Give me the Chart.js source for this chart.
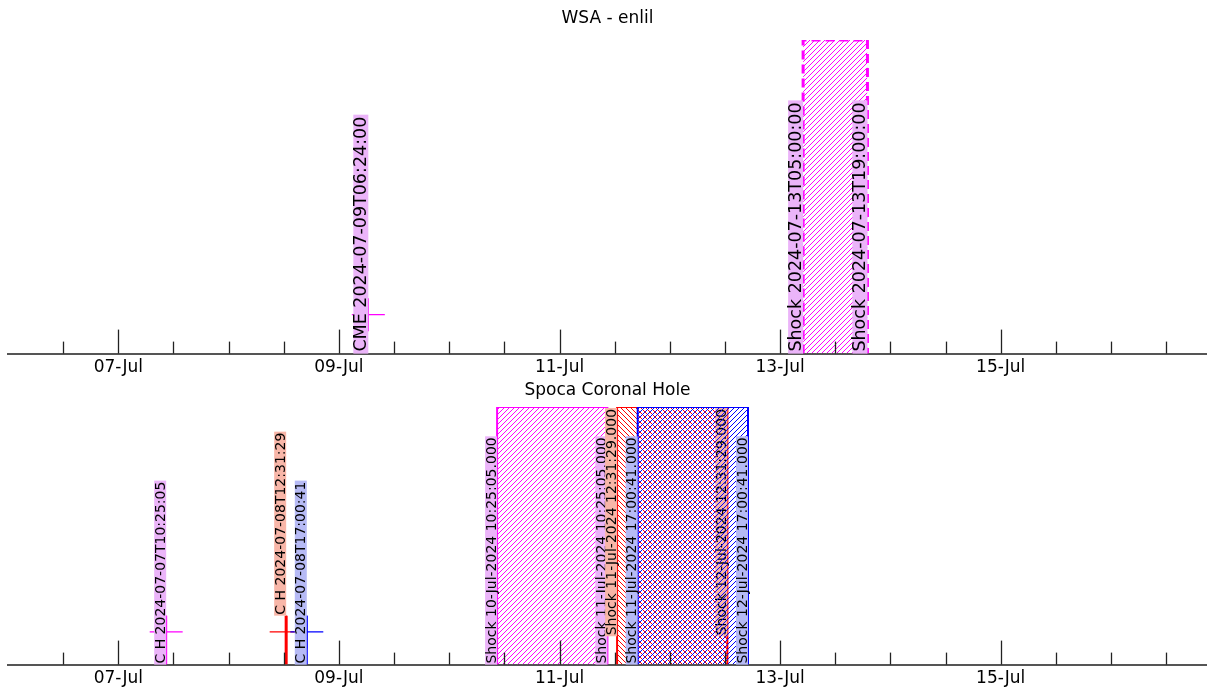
<!DOCTYPE html>
<html>
<head>
<meta charset="utf-8">
<title>WSA - enlil / Spoca Coronal Hole</title>
<script src="https://cdn.jsdelivr.net/npm/chart.js@4.4.1/dist/chart.umd.min.js"></script>
<style>
  html, body { margin: 0; padding: 0; background: #fff; }
  .panel { position: relative; width: 1207px; }
  #top-panel { height: 382px; }
  #bottom-panel { height: 311px; }
</style>
</head>
<body>
<div class="panel" id="top-panel"><canvas id="wsaChart"></canvas></div>
<div class="panel" id="bottom-panel"><canvas id="spocaChart"></canvas></div>
<script>
// Event times (UTC)
const wsaCmeTimes = ['2024-07-09T06:24:00'];
const wsaShockTimes = ['2024-07-13T05:00:00', '2024-07-13T19:00:00'];

const chMagentaTimes = ['2024-07-07T10:25:05'];
const chRedTimes = ['2024-07-08T12:31:29'];
const chBlueTimes = ['2024-07-08T17:00:41'];

const shockMagentaTimes = ['2024-07-10T10:25:05', '2024-07-11T10:25:05'];
const shockRedTimes = ['2024-07-11T12:31:29', '2024-07-12T12:31:29'];
const shockBlueTimes = ['2024-07-11T17:00:41', '2024-07-12T17:00:41'];

// Heights (fraction of panel height)
const wsaMarkerLevel = 0.124;
const chMarkerLevel = 0.127;
const chStemTop = 0.19;
const boxTop = 1;

// Axis: days of July 2024
const dayMin = 6;
const dayMax = 16.87;
const tickDays = [6.5, 7, 7.5, 8, 8.5, 9, 9.5, 10, 10.5, 11, 11.5, 12, 12.5, 13, 13.5, 14, 14.5, 15, 15.5, 16, 16.5];
const labelDays = [7, 9, 11, 13, 15];
const tickLabels = ['07-Jul', '09-Jul', '11-Jul', '13-Jul', '15-Jul'];

const MONTHS = ['Jan', 'Feb', 'Mar', 'Apr', 'May', 'Jun', 'Jul', 'Aug', 'Sep', 'Oct', 'Nov', 'Dec'];

Chart.defaults.font.family = '"DejaVu Sans", sans-serif';
Chart.defaults.color = '#000';

// ISO time -> fractional day of July
function toDay(iso) {
  const ms = Date.parse(iso + 'Z') - Date.UTC(2024, 6, 1);
  return 1 + ms / 86400000;
}

function pad2(n) {
  return String(n).padStart(2, '0');
}

// "10-Jul-2024 10:25:05.000"
function spocaStamp(iso) {
  const d = new Date(iso + 'Z');
  return pad2(d.getUTCDate()) + '-' + MONTHS[d.getUTCMonth()] + '-' + d.getUTCFullYear() + ' ' + iso.slice(11) + '.000';
}

// Hatch fill like matplotlib '/' or '\'
function hatch(color, size, dir) {
  const c = document.createElement('canvas');
  c.width = size;
  c.height = size;
  const g = c.getContext('2d');
  g.strokeStyle = color;
  g.lineWidth = 1;
  g.beginPath();
  if (dir === '/') {
    g.moveTo(0, size); g.lineTo(size, 0);
    g.moveTo(-1, 1); g.lineTo(1, -1);
    g.moveTo(size - 1, size + 1); g.lineTo(size + 1, size - 1);
  } else {
    g.moveTo(0, 0); g.lineTo(size, size);
    g.moveTo(-1, size - 1); g.lineTo(1, size + 1);
    g.moveTo(size - 1, -1); g.lineTo(size + 1, 1);
  }
  g.stroke();
  return g.createPattern(c, 'repeat');
}

const colors = {
  magenta: { line: '#ff00ff', label: '#ebb4f9' },
  red: { line: '#ff0000', label: '#f8b6a8' },
  blue: { line: '#0000ff', label: '#b6baf5' }
};

// Rectangle spanning two event times (open at the bottom, filled to y=0)
function boxData(times) {
  const a = toDay(times[0]);
  const b = toDay(times[1]);
  return [{ x: a, y: 0 }, { x: a, y: boxTop }, { x: b, y: boxTop }, { x: b, y: 0 }];
}

function boxDataset(name, times, color, pattern, dashed, order) {
  return {
    label: name,
    data: boxData(times),
    borderColor: color,
    borderWidth: dashed ? 3 : 2,
    borderDash: dashed ? [9, 5] : [],
    backgroundColor: pattern,
    fill: 'origin',
    tension: 0,
    pointRadius: 0,
    order: order
  };
}

function stemDataset(name, times, color, width, order) {
  const t = toDay(times[0]);
  return {
    label: name,
    data: [{ x: t, y: 0 }, { x: t, y: chStemTop }],
    borderColor: color,
    borderWidth: width,
    pointRadius: 0,
    fill: false,
    order: order
  };
}

function markerDataset(name, times, level, color, order) {
  return {
    label: name,
    data: times.map(t => ({ x: toDay(t), y: level })),
    showLine: false,
    pointStyle: 'cross',
    pointRadius: 16.5,
    pointBorderWidth: 1.2,
    pointBorderColor: color,
    borderColor: color,
    order: order
  };
}

// Rotated text labels, drawn right after a given dataset
const labelGroups = {
  wsaChart: [
    { after: 'wsa-shock-box', size: 17.5, thick: 15, pad: 2, bg: colors.magenta.label,
      items: wsaShockTimes.map(t => ({ day: toDay(t), base: 0, text: 'Shock ' + t })) },
    { after: 'wsa-cme-marker', size: 17.5, thick: 15, pad: 2, bg: colors.magenta.label,
      items: wsaCmeTimes.map(t => ({ day: toDay(t), base: 0, text: 'CME ' + t })) }
  ],
  spocaChart: [
    { after: 'shock-magenta', size: 14, thick: 12, pad: 1, bg: colors.magenta.label,
      items: shockMagentaTimes.map(t => ({ day: toDay(t), base: 0, text: 'Shock ' + spocaStamp(t) })) },
    { after: 'ch-magenta-marker', size: 14, thick: 12, pad: 1, bg: colors.magenta.label,
      items: chMagentaTimes.map(t => ({ day: toDay(t), base: 0, text: 'C H ' + t })) },
    { after: 'shock-red', size: 14, thick: 12, pad: 1, bg: colors.red.label,
      items: shockRedTimes.map(t => ({ day: toDay(t), base: 0.11, text: 'Shock ' + spocaStamp(t) })) },
    { after: 'ch-red-marker', size: 14, thick: 12, pad: 1, bg: colors.red.label,
      items: chRedTimes.map(t => ({ day: toDay(t), base: chStemTop, text: 'C H ' + t })) },
    { after: 'shock-blue', size: 14, thick: 12, pad: 1, bg: colors.blue.label,
      items: shockBlueTimes.map(t => ({ day: toDay(t), base: 0, text: 'Shock ' + spocaStamp(t) })) },
    { after: 'ch-blue-marker', size: 14, thick: 12, pad: 1, bg: colors.blue.label,
      items: chBlueTimes.map(t => ({ day: toDay(t), base: 0, text: 'C H ' + t })) }
  ]
};

function drawLabels(chart, group) {
  const { ctx, scales: { x, y } } = chart;
  ctx.save();
  ctx.font = group.size + 'px "DejaVu Sans"';
  ctx.textBaseline = 'middle';
  group.items.forEach(item => {
    const px = x.getPixelForValue(item.day);
    const py = y.getPixelForValue(item.base);
    const w = ctx.measureText(item.text).width;
    ctx.save();
    ctx.translate(px - group.thick / 2, py);
    ctx.rotate(-Math.PI / 2);
    ctx.fillStyle = group.bg;
    ctx.fillRect(0, -group.thick / 2, w + group.pad * 2, group.thick);
    ctx.fillStyle = '#000';
    ctx.fillText(item.text, group.pad, 1);
    ctx.restore();
  });
  ctx.restore();
}

const eventLabelPlugin = {
  id: 'eventLabels',
  afterDatasetDraw(chart, args) {
    const ds = chart.data.datasets[args.index];
    (labelGroups[chart.canvas.id] || [])
      .filter(g => g.after === ds.label)
      .forEach(g => drawLabels(chart, g));
  }
};

// Upward tick marks on the time axis
const tickMarkPlugin = {
  id: 'tickMarks',
  afterDatasetsDraw(chart) {
    const { ctx, scales: { x }, chartArea } = chart;
    ctx.save();
    ctx.strokeStyle = '#222';
    ctx.lineWidth = 1.3;
    tickDays.forEach(d => {
      const px = Math.round(x.getPixelForValue(d)) + 0.5;
      const len = labelDays.includes(d) ? 24 : 12;
      ctx.beginPath();
      ctx.moveTo(px, chartArea.bottom);
      ctx.lineTo(px, chartArea.bottom - len);
      ctx.stroke();
    });
    ctx.restore();
  }
};

function panelOptions(title, titleFont, titlePad) {
  return {
    responsive: true,
    maintainAspectRatio: false,
    animation: false,
    layout: { autoPadding: false, padding: { left: 8, right: 0, top: 0, bottom: 0 } },
    plugins: {
      legend: { display: false },
      tooltip: { enabled: false },
      title: {
        display: true,
        text: title,
        font: titleFont,
        color: '#000',
        padding: titlePad
      }
    },
    scales: {
      x: {
        type: 'linear',
        min: dayMin,
        max: dayMax,
        afterBuildTicks: scale => {
          scale.ticks = labelDays.map(v => ({ value: v }));
        },
        ticks: {
          autoSkip: false,
          maxRotation: 0,
          padding: 4,
          font: { size: 17 },
          color: '#000',
          callback: (value, index) => tickLabels[index]
        },
        grid: { display: false, drawTicks: false },
        border: { display: true, color: '#555', width: 2 }
      },
      y: {
        display: false,
        min: 0,
        max: 1
      }
    }
  };
}

document.addEventListener('DOMContentLoaded', () => {
  const magentaTop = hatch(colors.magenta.line, 5, '/');
  const magentaFine = hatch(colors.magenta.line, 5, '/');
  const redFine = hatch(colors.red.line, 5, '\\');
  const blueFine = hatch(colors.blue.line, 5, '/');

  new Chart(document.getElementById('wsaChart'), {
    type: 'line',
    data: {
      datasets: [
        boxDataset('wsa-shock-box', wsaShockTimes, colors.magenta.line, magentaTop, true, 3),
        markerDataset('wsa-cme-marker', wsaCmeTimes, wsaMarkerLevel, colors.magenta.line, 2)
      ]
    },
    options: panelOptions('WSA - enlil', { size: 17, weight: 'normal', lineHeight: 1.2 }, { top: 8, bottom: 11.6 }),
    plugins: [eventLabelPlugin, tickMarkPlugin]
  });

  new Chart(document.getElementById('spocaChart'), {
    type: 'line',
    data: {
      datasets: [
        boxDataset('shock-magenta', shockMagentaTimes, colors.magenta.line, magentaFine, false, 9),
        stemDataset('ch-magenta-stem', chMagentaTimes, colors.magenta.line, 2, 8),
        markerDataset('ch-magenta-marker', chMagentaTimes, chMarkerLevel, colors.magenta.line, 7),
        boxDataset('shock-red', shockRedTimes, colors.red.line, redFine, false, 6),
        stemDataset('ch-red-stem', chRedTimes, colors.red.line, 3, 5),
        markerDataset('ch-red-marker', chRedTimes, chMarkerLevel, colors.red.line, 4),
        boxDataset('shock-blue', shockBlueTimes, colors.blue.line, blueFine, false, 3),
        stemDataset('ch-blue-stem', chBlueTimes, colors.blue.line, 2, 2),
        markerDataset('ch-blue-marker', chBlueTimes, chMarkerLevel, colors.blue.line, 1)
      ]
    },
    options: panelOptions('Spoca Coronal Hole', { size: 17, weight: 'normal', lineHeight: 1.0 }, { top: 0, bottom: 8 }),
    plugins: [eventLabelPlugin, tickMarkPlugin]
  });
});
</script>
</body>
</html>
